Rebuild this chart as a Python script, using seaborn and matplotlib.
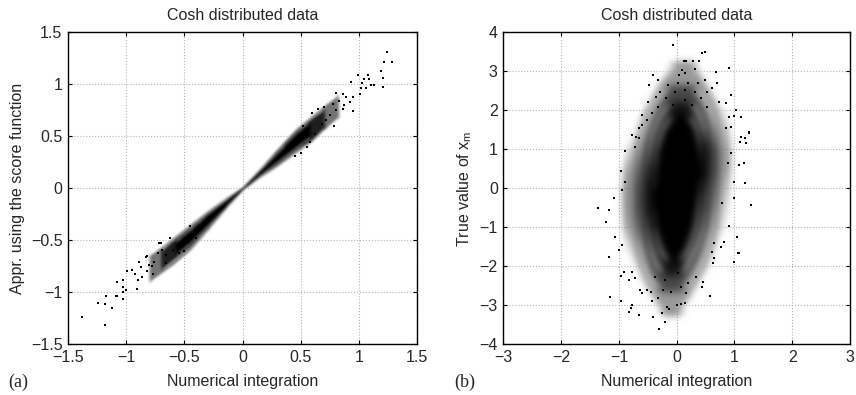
import numpy as np
import pandas as pd
import matplotlib
matplotlib.use('Agg')
import matplotlib.pyplot as plt
import seaborn as sns

# ---- panel (a): score-function approximation vs numerical integration ----
ticks_a = [-1.5, -1, -0.5, 0, 0.5, 1, 1.5]
ticklabels_a = ['\u22121.5', '\u22121', '\u22120.5', '0', '0.5', '1', '1.5']

# band of the dense cloud along the diagonal (outer sparse / dense / core)
band_a_x = [-0.8, -0.7, -0.6, -0.45, -0.3, -0.15, 0.0, 0.15, 0.3, 0.45, 0.6, 0.7, 0.82]
band_a_lo = [-0.90, -0.82, -0.74, -0.60, -0.41, -0.21, -0.02, 0.10, 0.21, 0.33, 0.45, 0.56, 0.68]
band_a_hi = [-0.64, -0.56, -0.47, -0.34, -0.21, -0.09, 0.02, 0.20, 0.39, 0.57, 0.71, 0.80, 0.90]
dense_a_x = [-0.7, -0.6, -0.45, -0.3, -0.15, 0.0, 0.15, 0.3, 0.45, 0.6, 0.7]
dense_a_lo = [-0.78, -0.69, -0.56, -0.38, -0.19, -0.012, 0.12, 0.23, 0.36, 0.47, 0.58]
dense_a_hi = [-0.60, -0.50, -0.37, -0.23, -0.11, 0.012, 0.18, 0.37, 0.55, 0.68, 0.76]
core_a_x = [-0.58, -0.45, -0.3, -0.15, 0.0, 0.15, 0.3, 0.45, 0.58]
core_a_lo = [-0.64, -0.52, -0.35, -0.18, -0.008, 0.13, 0.26, 0.39, 0.50]
core_a_hi = [-0.52, -0.40, -0.25, -0.12, 0.008, 0.17, 0.34, 0.52, 0.64]

# scattered single points
pts_a_x = [1.244, 1.213, 1.287, 1.193, 1.204, 1.21, 1.073, 1.04, 1.087, 0.99,
           1.10, 1.13, 1.018, 1.03, 1.06, 0.93, 1.01, 0.946, 0.783, 0.80,
           0.86, 0.89, 0.83, 0.946, 0.775, 0.875, 0.80, 0.92, 0.86, 0.70,
           0.72, 0.68, 0.65, 0.75, 0.62, 0.58, 0.55, 0.50, 0.45, 0.60, 0.52,
           -1.38, -1.18, -1.24, -1.18, -1.17, -1.12, -1.09, -1.076, -1.03, -1.03,
           -1.08, -1.03, -1.00, -0.99, -1.03, -0.91, -0.90, -0.95, -0.83, -0.89,
           -0.78, -0.72, -0.82, -0.86, -0.92, -0.876, -0.82, -0.80, -0.76, -0.73,
           -0.69, -0.70, -0.66, -0.77, -0.66, -0.60, -0.55, -0.62, -0.50, -0.45, -0.40]
pts_a_y = [1.31, 1.21, 1.21, 1.125, 1.06, 0.97, 1.09, 1.05, 1.05, 1.09,
           0.99, 0.99, 0.96, 1.01, 0.96, 1.02, 0.91, 0.74, 0.60, 0.92,
           0.91, 0.88, 0.84, 0.88, 0.81, 0.80, 0.75, 0.83, 0.76, 0.78,
           0.66, 0.62, 0.76, 0.70, 0.52, 0.44, 0.40, 0.34, 0.31, 0.72, 0.60,
           -1.235, -1.31, -1.10, -1.11, -1.04, -1.15, -1.04, -1.035, -1.06, -1.00,
           -0.90, -0.88, -0.98, -0.80, -0.95, -0.97, -0.88, -0.785, -0.66, -0.705,
           -0.75, -0.53, -0.80, -0.85, -0.82, -0.76, -0.65, -0.74, -0.705, -0.625,
           -0.59, -0.53, -0.64, -0.82, -0.72, -0.59, -0.62, -0.48, -0.60, -0.36, -0.48]

# ---- panel (b): true value vs numerical integration ----
xticks_b = [-3, -2, -1, 0, 1, 2, 3]
xticklabels_b = ['\u22123', '\u22122', '\u22121', '0', '1', '2', '3']
yticks_b = [-4, -3, -2, -1, 0, 1, 2, 3, 4]
yticklabels_b = ['\u22124', '\u22123', '\u22122', '\u22121', '0', '1', '2', '3', '4']

sparse_b_y = [-3.2, -2.8, -2.4, -2.0, -1.5, -1.0, -0.5, 0.0, 0.5, 1.0, 1.5, 2.0, 2.4, 2.8, 3.2]
sparse_b_l = [-0.25, -0.45, -0.60, -0.72, -0.82, -0.88, -0.90, -0.90, -0.88, -0.82, -0.72, -0.60, -0.45, -0.30, -0.05]
sparse_b_r = [0.05, 0.25, 0.40, 0.55, 0.68, 0.78, 0.82, 0.85, 0.88, 0.88, 0.85, 0.78, 0.65, 0.50, 0.30]
mid_b_y = [-2.6, -2.2, -1.8, -1.4, -1.0, -0.5, 0.0, 0.5, 1.0, 1.4, 1.8, 2.2, 2.6]
mid_b_l = [-0.30, -0.48, -0.58, -0.65, -0.70, -0.72, -0.72, -0.70, -0.65, -0.58, -0.48, -0.35, -0.15]
mid_b_r = [0.10, 0.28, 0.42, 0.52, 0.60, 0.65, 0.68, 0.70, 0.70, 0.66, 0.60, 0.48, 0.30]
dense_b_y = [-2.2, -1.8, -1.4, -1.0, -0.5, 0.0, 0.5, 1.0, 1.4, 1.8, 2.2]
dense_b_l = [-0.25, -0.38, -0.48, -0.52, -0.55, -0.55, -0.53, -0.48, -0.42, -0.30, -0.12]
dense_b_r = [0.08, 0.22, 0.35, 0.45, 0.50, 0.52, 0.55, 0.55, 0.50, 0.40, 0.25]
core_b_y = [-1.9, -1.5, -1.0, -0.5, 0.0, 0.5, 1.0, 1.5, 1.9]
core_b_l = [-0.15, -0.30, -0.40, -0.42, -0.42, -0.40, -0.36, -0.25, -0.08]
core_b_r = [0.05, 0.20, 0.32, 0.38, 0.42, 0.44, 0.42, 0.35, 0.20]

pts_b_x = [-0.06, 0.49, 0.43, 0.16, 0.12, 0.28, 0.38, 0.90, 0.68, -0.41,
           0.10, 0.04, 0.14, 0.32, -0.48, -0.32, -0.15, 0.02, 0.19, 0.37,
           0.49, 0.69, -0.29, -0.03, 0.14, 0.31, 0.53, 0.62, -0.49, -0.35,
           -0.18, 0.14, 0.42, 0.74, 0.94, 0.85, -0.32, -0.06, 0.26, 0.53,
           1.02, -0.60, -0.43, -0.66, -0.52, 0.91, 0.99, 1.11, 1.19, 1.11,
           1.25, 0.94, 0.85, -0.71, -0.66,
           -1.23, -1.09, -1.07, -1.17, -0.94, -0.89, -0.97, -0.89, -0.77, -0.72,
           -0.60, 1.29, 1.19, 1.08, 1.16, 1.20, 1.09, 1.25, 0.99, 0.99,
           0.91, 0.79, 0.88, 0.94, -1.37, 1.08,
           -0.31, -0.20, -0.41, -0.26, -0.14, -0.16, -0.65, -0.82, -0.79, -0.77,
           -1.16, -0.97, -0.43, -0.33, 0.00, 0.07, 0.15, 0.57, 0.46, 0.43,
           0.17, -0.60, -0.51, -0.63, -0.45, -0.23, -0.09, 0.08, -0.83, -0.72,
           -0.78, -0.92, -0.97, -1.17, -1.00, -0.94, -1.06, 0.63, 0.65, 0.62,
           0.77, 0.82, 1.04, 1.06, 1.00, 0.65, 0.20, 0.34, 0.03, -0.20, -0.37]
pts_b_y = [3.66, 3.50, 3.46, 3.27, 3.27, 3.26, 3.27, 3.08, 2.97, 2.91,
           3.03, 2.90, 2.95, 3.05, 2.65, 2.78, 2.65, 2.69, 2.69, 2.69,
           2.78, 2.69, 2.48, 2.48, 2.52, 2.48, 2.48, 2.56, 2.22, 2.35,
           2.31, 2.26, 2.31, 2.22, 2.39, 2.18, 2.09, 2.14, 2.14, 2.09,
           2.00, 1.88, 1.92, 1.54, 1.75, 1.82, 1.84, 1.82, 1.28, 1.32,
           1.43, 1.58, 1.55, 1.32, 1.28,
           -0.86, -0.26, -1.26, -0.56, -0.04, 0.17, 0.43, 0.96, 1.37, 1.07,
           1.62, -0.43, 0.13, 0.60, 0.64, 1.15, 1.18, 1.41, 0.17, -0.26,
           -0.98, -0.38, 0.64, 0.90, -0.51, -1.67,
           -3.61, -3.42, -3.31, -3.19, -3.10, -3.05, -3.25, -3.16, -3.08, -2.99,
           -2.78, -2.89, -2.89, -2.82, -2.99, -2.97, -2.95, -2.76, -2.41, -2.54,
           -2.69, -2.69, -2.60, -2.61, -2.65, -2.61, -2.65, -2.52, -2.35, -2.31,
           -2.14, -2.14, -2.25, -1.75, -1.58, -1.45, -1.24, -1.92, -1.80, -1.63,
           -1.50, -1.37, -1.24, -1.67, -1.88, -1.41, -2.44, -2.27, -2.18, -2.35, -2.27]

df_a = pd.DataFrame({'x': pts_a_x, 'y': pts_a_y})
df_b = pd.DataFrame({'x': pts_b_x, 'y': pts_b_y})


def soften(sigma):
    # gaussian blur applied at draw time so the density bands have soft edges
    def _filter(img, dpi):
        pad = int(3 * sigma) + 1
        a = np.pad(img, ((pad, pad), (pad, pad), (0, 0)))
        k = np.exp(-0.5 * (np.arange(-pad, pad + 1) / sigma) ** 2)
        k /= k.sum()
        a = np.apply_along_axis(lambda m: np.convolve(m, k, mode='same'), 0, a)
        a = np.apply_along_axis(lambda m: np.convolve(m, k, mode='same'), 1, a)
        return a, -pad, -pad
    return _filter


sns.set_style('ticks')
plt.rcParams['font.family'] = ['Liberation Sans', 'DejaVu Sans']
plt.rcParams['font.size'] = 11.5
plt.rcParams['xtick.direction'] = 'in'
plt.rcParams['ytick.direction'] = 'in'

fig = plt.figure(figsize=(8.56, 3.95), dpi=100)
ax1 = fig.add_axes([0.0794, 0.1284, 0.408, 0.790])
ax2 = fig.add_axes([0.588, 0.1284, 0.405, 0.790])

# panel a
for xs, lo, hi, c in [(band_a_x, band_a_lo, band_a_hi, '0.45'),
                      (dense_a_x, dense_a_lo, dense_a_hi, '0.12'),
                      (core_a_x, core_a_lo, core_a_hi, 'black')]:
    poly = ax1.fill_between(xs, lo, hi, color=c, lw=0)
    poly.set_agg_filter(soften(1.0))
sns.scatterplot(data=df_a, x='x', y='y', ax=ax1, color='black', marker='s',
                s=2.5, linewidth=0)

# panel b
for ys, left, right, c in [(sparse_b_y, sparse_b_l, sparse_b_r, '0.6'),
                           (mid_b_y, mid_b_l, mid_b_r, '0.28'),
                           (dense_b_y, dense_b_l, dense_b_r, '0.08'),
                           (core_b_y, core_b_l, core_b_r, 'black')]:
    poly = ax2.fill_betweenx(ys, left, right, color=c, lw=0)
    poly.set_agg_filter(soften(3))
sns.scatterplot(data=df_b, x='x', y='y', ax=ax2, color='black', marker='s',
                s=2.5, linewidth=0)

for ax in (ax1, ax2):
    ax.grid(True, linestyle=':', color='0.7', linewidth=0.8)
    ax.set_axisbelow(True)
    ax.tick_params(top=True, right=True, length=3, width=0.8, pad=4,
                   labelsize=11.5, color='black')
    for sp in ax.spines.values():
        sp.set_linewidth(1.0)
        sp.set_color('black')
    ax.set_title('Cosh distributed data', fontsize=11.5, pad=9)
    ax.set_xlabel('Numerical integration', fontsize=11.5, labelpad=6.5)

ax1.set_xlim(-1.5, 1.5)
ax1.set_ylim(-1.5, 1.5)
ax1.set_xticks(ticks_a)
ax1.set_xticklabels(ticklabels_a)
ax1.set_yticks(ticks_a)
ax1.set_yticklabels(ticklabels_a)
ax1.set_ylabel('Appr. using the score function', fontsize=11.5, labelpad=4)

ax2.set_xlim(-3, 3)
ax2.set_ylim(-4, 4)
ax2.set_xticks(xticks_b)
ax2.set_xticklabels(xticklabels_b)
ax2.set_yticks(yticks_b)
ax2.set_yticklabels(yticklabels_b)
ax2.set_ylabel('True value of x$_\\mathregular{m}$', fontsize=11.5, labelpad=4)

fig.text(0.010, 0.033, '(a)', family='Liberation Serif', fontsize=13, va='center')
fig.text(0.531, 0.033, '(b)', family='Liberation Serif', fontsize=13, va='center')

fig.savefig('out.png', dpi=100)
